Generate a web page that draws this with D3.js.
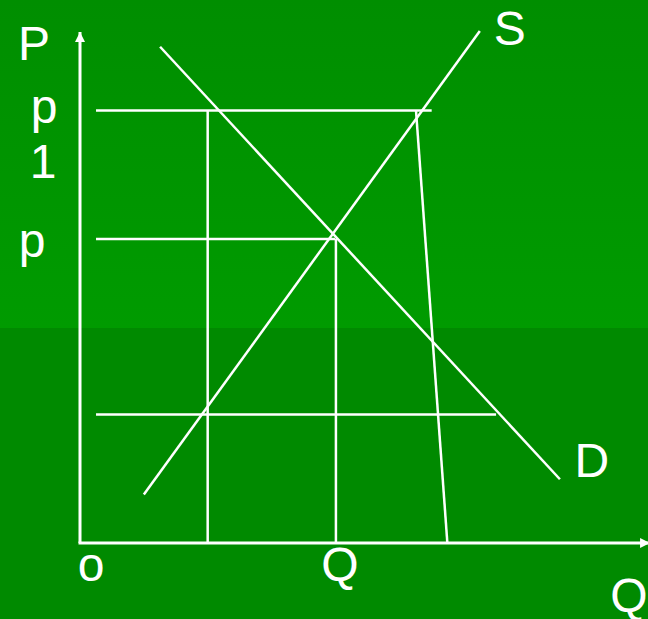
<!DOCTYPE html>
<html>
<head>
<meta charset="utf-8">
<script src="https://cdn.jsdelivr.net/npm/d3@7"></script>
<style>
  html, body { margin: 0; padding: 0; background: #008a00; overflow: hidden; }
  text { font-family: "Liberation Sans", Arial, sans-serif; fill: #fff; }
</style>
</head>
<body>
<svg id="svg"></svg>
<script>
// price levels (P) and quantity levels (Q), in chart units
var priceLevels = [8.48, 5.96, 2.52];          // p1, p, floor
var priceLineEnds = [6.28, 4.56, 7.43];         // where each horizontal stops
var qtyLevels = [2.28, 4.57];                   // verticals down to the axis
var qtyTops = [8.48, 5.96];
var supply = [[1.14, 0.95], [7.14, 10.04]];
var demand = [[1.43, 9.73], [8.57, 1.25]];
var steep = [[6.0, 8.48], [6.56, 0]];
var yLabels = ["P", "p", "1", "p"];
var yLabelPos = [9.47, 8.24, 7.15, 5.6];
var xLabels = ["o", "Q"];
var xLabelPos = [0.2, 4.64];

var width = 648, height = 619;
var svg = d3.select("#svg").attr("width", width).attr("height", height);

var x = d3.scaleLinear().domain([0, 10]).range([80, 640]);
var y = d3.scaleLinear().domain([0, 10]).range([543, 33]);

// background: lighter top half with a soft gradient
var defs = svg.append("defs");
var grad = defs.append("linearGradient").attr("id", "bg")
    .attr("x1", 0).attr("y1", 0).attr("x2", 0).attr("y2", 1);
grad.append("stop").attr("offset", "0%").attr("stop-color", "#008e00");
grad.append("stop").attr("offset", "100%").attr("stop-color", "#009b00");

svg.append("rect").attr("width", width).attr("height", height).attr("fill", "#008a00");
svg.append("rect").attr("width", width).attr("height", 328).attr("fill", "url(#bg)");

defs.append("marker")
    .attr("id", "arrow")
    .attr("viewBox", "0 0 10 10")
    .attr("refX", 10).attr("refY", 5)
    .attr("markerWidth", 12).attr("markerHeight", 10)
    .attr("markerUnits", "userSpaceOnUse")
    .attr("orient", "auto")
  .append("path")
    .attr("d", "M0,0L10,5L0,10Z")
    .attr("fill", "#fff");

var line = d3.line().x(function(d) { return x(d[0]); }).y(function(d) { return y(d[1]); });

// axes
svg.append("line")
    .attr("x1", x(0)).attr("y1", y(0))
    .attr("x2", x(0)).attr("y2", y(10.02))
    .attr("stroke", "#fff").attr("stroke-width", 3)
    .attr("marker-end", "url(#arrow)");
svg.append("line")
    .attr("x1", x(0) - 1.5).attr("y1", y(0))
    .attr("x2", x(10.18)).attr("y2", y(0))
    .attr("stroke", "#fff").attr("stroke-width", 3)
    .attr("marker-end", "url(#arrow)");

var g = svg.append("g").attr("stroke", "#fff").attr("stroke-width", 2.5).attr("fill", "none");

g.selectAll("line.h")
  .data(priceLevels)
  .enter().append("line")
    .attr("class", "h")
    .attr("x1", x(0.286))
    .attr("x2", function(d, i) { return x(priceLineEnds[i]); })
    .attr("y1", function(d) { return y(d); })
    .attr("y2", function(d) { return y(d); });

g.selectAll("line.v")
  .data(qtyLevels)
  .enter().append("line")
    .attr("class", "v")
    .attr("x1", function(d) { return x(d); })
    .attr("x2", function(d) { return x(d); })
    .attr("y1", y(0))
    .attr("y2", function(d, i) { return y(qtyTops[i]); });

g.append("path").attr("d", line(steep));
g.append("path").attr("d", line(supply));
g.append("path").attr("d", line(demand));

// labels
svg.selectAll("text.yl")
  .data(yLabels)
  .enter().append("text")
    .attr("class", "yl")
    .attr("text-anchor", "middle")
    .attr("font-size", 48)
    .attr("x", function(d, i) { return [34, 44, 43, 32][i]; })
    .attr("y", function(d, i) { return y(yLabelPos[i]); })
    .text(function(d) { return d; });

svg.selectAll("text.xl")
  .data(xLabels)
  .enter().append("text")
    .attr("class", "xl")
    .attr("text-anchor", "middle")
    .attr("font-size", 48)
    .attr("x", function(d, i) { return x(xLabelPos[i]); })
    .attr("y", 581)
    .text(function(d) { return d; });

svg.append("text").attr("text-anchor", "middle").attr("font-size", 48)
    .attr("x", x(7.14) + 30).attr("y", 45).text("S");
svg.append("text").attr("text-anchor", "middle").attr("font-size", 48)
    .attr("x", x(8.57) + 32).attr("y", 477).text("D");
svg.append("text").attr("text-anchor", "middle").attr("font-size", 48)
    .attr("x", 629).attr("y", 612).text("Q");
</script>
</body>
</html>
